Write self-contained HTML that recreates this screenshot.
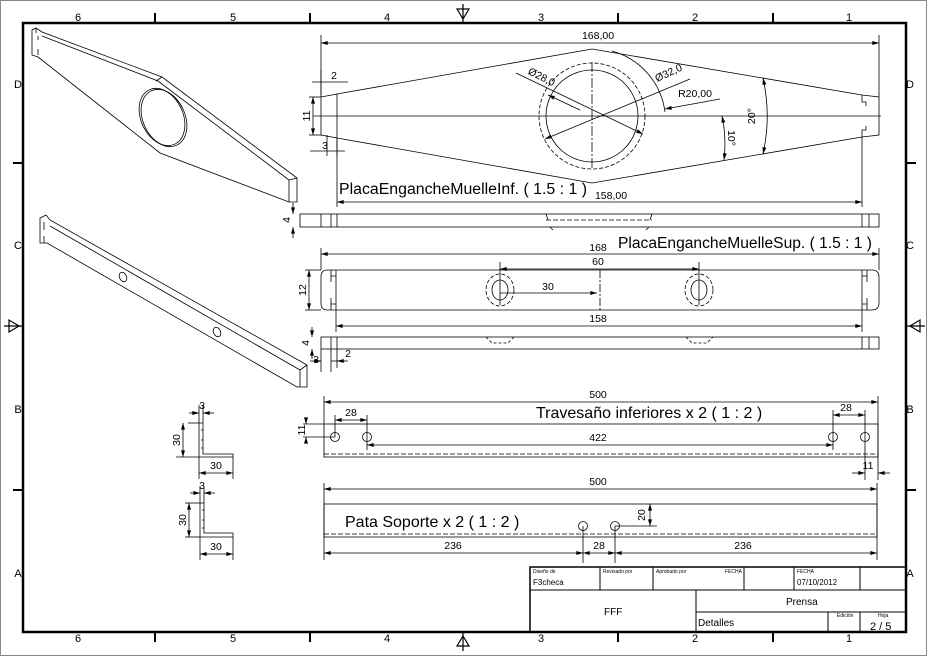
<!DOCTYPE html>
<html><head><meta charset="utf-8"><style>
html,body{margin:0;padding:0;background:#fff;}
svg{display:block;font-family:"Liberation Sans","DejaVu Sans",sans-serif;}
</style></head><body>
<svg width="927" height="656" viewBox="0 0 927 656" xmlns="http://www.w3.org/2000/svg">
<defs>
<marker id="a" viewBox="0 0 10 6" refX="10" refY="3" markerWidth="7" markerHeight="4" orient="auto-start-reverse" markerUnits="userSpaceOnUse"><path d="M0,0L10,3L0,6z" fill="#000"/></marker>
</defs>
<rect x="0.5" y="0.5" width="926" height="655" fill="#fff" stroke="#888"/>
<rect x="23" y="23" width="883" height="609" fill="none" stroke="#000" stroke-width="2.5"/>
<g stroke="#000" stroke-width="2">
<line x1="155" y1="13" x2="155" y2="23"/><line x1="310" y1="13" x2="310" y2="23"/><line x1="618" y1="13" x2="618" y2="23"/><line x1="773" y1="13" x2="773" y2="23"/>
<line x1="155" y1="632" x2="155" y2="642"/><line x1="310" y1="632" x2="310" y2="642"/><line x1="618" y1="632" x2="618" y2="642"/><line x1="773" y1="632" x2="773" y2="642"/>
<line x1="13" y1="163" x2="23" y2="163"/><line x1="13" y1="490" x2="23" y2="490"/>
<line x1="906" y1="163" x2="916" y2="163"/><line x1="906" y1="490" x2="916" y2="490"/>
</g>
<g stroke="#000" stroke-width="1.2" fill="none">
<line x1="463" y1="4" x2="463" y2="23"/><path d="M457,9L469,9L463,19z"/>
<line x1="463" y1="632" x2="463" y2="651"/><path d="M457,646L469,646L463,636z"/>
<line x1="4" y1="326" x2="23" y2="326"/><path d="M9,320L9,332L19,326z"/>
<line x1="906" y1="326" x2="925" y2="326"/><path d="M920,320L920,332L910,326z"/>
</g>
<g font-size="11" text-anchor="middle" fill="#000">
<text x="78" y="21">6</text><text x="233" y="21">5</text><text x="387" y="21">4</text><text x="541" y="21">3</text><text x="695" y="21">2</text><text x="849" y="21">1</text>
<text x="78" y="642">6</text><text x="233" y="642">5</text><text x="387" y="642">4</text><text x="541" y="642">3</text><text x="695" y="642">2</text><text x="849" y="642">1</text>
<text x="18" y="88">D</text><text x="18" y="249">C</text><text x="18" y="413">B</text><text x="18" y="577">A</text>
<text x="910" y="88">D</text><text x="910" y="249">C</text><text x="910" y="413">B</text><text x="910" y="577">A</text>
</g>

<g stroke="#000" stroke-width="1" fill="none">
<rect x="530" y="567" width="376" height="65" stroke-width="1.5"/>
<line x1="530" y1="590" x2="906" y2="590"/>
<line x1="600" y1="567" x2="600" y2="590"/><line x1="653" y1="567" x2="653" y2="590"/><line x1="744" y1="567" x2="744" y2="590"/><line x1="794" y1="567" x2="794" y2="590"/><line x1="860" y1="567" x2="860" y2="590"/>
<line x1="696" y1="590" x2="696" y2="632"/><line x1="696" y1="612" x2="906" y2="612"/>
<line x1="828" y1="612" x2="828" y2="632"/><line x1="860" y1="612" x2="860" y2="632"/>
</g>
<g font-size="5" fill="#000">
<text x="533" y="573">Diseño de</text><text x="603" y="573">Revisado por</text><text x="656" y="573">Aprobado por</text><text x="725" y="573">FECHA</text><text x="797" y="573">FECHA</text>
<text x="837" y="617">Edición</text><text x="878" y="617">Hoja</text>
</g>
<g font-size="8" fill="#000"><text x="533" y="585">F3checa</text><text x="797" y="585">07/10/2012</text></g>
<g font-size="10" fill="#000"><text x="604" y="615">FFF</text><text x="786" y="605">Prensa</text><text x="698" y="626">Detalles</text><text x="870" y="630" font-size="11">2 / 5</text></g>

<g stroke="#000" stroke-width="0.8" fill="none">
<path d="M32,30L36,28L42,32L162,77L297,178L297,202L289,202L160,153L38,57L32,55z"/>
<path d="M42,36L158,81L289,180"/><line x1="162" y1="77" x2="156" y2="81"/>
<path d="M289,180L297,178M289,180L289,202"/>
<path d="M36,28L36,33M38,36L38,40M38,49L38,55"/>
<ellipse cx="162" cy="117" rx="21" ry="30" transform="rotate(-25 162 117)"/>
<ellipse cx="164" cy="118" rx="21" ry="30" transform="rotate(-25 164 118)"/>
<path d="M40,218L46,215L50,220L307,365L307,387L297,387L47,243L40,243z"/>
<path d="M50,226L300,370L300,387M300,370L307,365"/>
<path d="M44,222L44,230M44,236L44,243"/>
<ellipse cx="123" cy="277" rx="3.5" ry="5" transform="rotate(-25 123 277)"/>
<ellipse cx="217" cy="332" rx="3.5" ry="5" transform="rotate(-25 217 332)"/>
</g>

<g stroke="#000" stroke-width="0.8" fill="none">
<path d="M321,97L337,94L592,49L862,95L879,97L879,135L862,137L592,183L337,138L321,135z"/>
<line x1="337" y1="94" x2="337" y2="138"/>
<path d="M862,95L862,102L866,102L866,106M866,126L866,130L862,130L862,137"/>
<line x1="313" y1="116" x2="881" y2="116"/>
<circle cx="592" cy="116" r="46"/>
<circle cx="592" cy="116" r="53" stroke-dasharray="4,2"/>
<line x1="592" y1="62" x2="592" y2="170" stroke-dasharray="10,2,2,2"/>
<path d="M612,51A73,73 0 0 1 665,112"/>
<line x1="321" y1="35" x2="321" y2="97"/><line x1="879" y1="35" x2="879" y2="97"/>
<line x1="321" y1="43" x2="879" y2="43" marker-start="url(#a)" marker-end="url(#a)"/>
<line x1="337" y1="138" x2="337" y2="207"/><line x1="862" y1="137" x2="862" y2="207"/>
<line x1="337" y1="202" x2="862" y2="202" marker-start="url(#a)" marker-end="url(#a)"/>
<line x1="516" y1="73" x2="643" y2="134" marker-end="url(#a)"/>
<line x1="580" y1="110" x2="548" y2="95" marker-end="url(#a)"/>
<line x1="690" y1="79" x2="545" y2="139" marker-end="url(#a)"/>
<line x1="720" y1="99" x2="665" y2="109" marker-end="url(#a)"/>
<path d="M763,78A175,175 0 0 1 763,154" marker-start="url(#a)" marker-end="url(#a)"/>
<path d="M722,116A135,135 0 0 1 724,160" marker-start="url(#a)" marker-end="url(#a)"/>
<line x1="312" y1="82" x2="348" y2="82"/><line x1="321" y1="70" x2="321" y2="95"/>
<line x1="313" y1="97" x2="313" y2="135" marker-start="url(#a)" marker-end="url(#a)"/>
<line x1="309" y1="97" x2="321" y2="97"/><line x1="309" y1="135" x2="321" y2="135"/>
<line x1="310" y1="151" x2="345" y2="151"/><line x1="327" y1="135" x2="327" y2="156"/><line x1="337" y1="140" x2="337" y2="156"/>
<rect x="300" y="214" width="579" height="13"/>
<line x1="321" y1="214" x2="321" y2="227"/><line x1="331" y1="214" x2="331" y2="227"/><line x1="337" y1="214" x2="337" y2="227"/>
<line x1="862" y1="214" x2="862" y2="227"/><line x1="869" y1="214" x2="869" y2="227"/>
<line x1="546" y1="220" x2="652" y2="220" stroke-dasharray="5,2"/>
<path d="M546,214L548,220M652,214L650,220M550,227L553,230M649,227L646,230"/>
<line x1="293" y1="203" x2="293" y2="214" marker-end="url(#a)"/><line x1="293" y1="238" x2="293" y2="227" marker-end="url(#a)"/>
</g>
<g fill="#000" font-size="10.5" text-anchor="middle">
<text x="598" y="39">168,00</text>
<text x="334" y="79">2</text>
<text x="325" y="149">3</text>
<text transform="translate(313,116) rotate(-90)" y="-3">11</text>
<text x="611" y="199">158,00</text>
<text transform="translate(540,80) rotate(27)">Ø28,0</text>
<text transform="translate(670,76) rotate(-25)">Ø32,0</text>
<text x="695" y="97">R20,00</text>
<text transform="translate(755,116) rotate(-90)">20°</text>
<text transform="translate(728,138) rotate(90)">10°</text>
<text transform="translate(290,220) rotate(-90)">4</text>
</g>
<text x="339" y="194" font-size="15.5" fill="#000" textLength="248" lengthAdjust="spacingAndGlyphs">PlacaEngancheMuelleInf. ( 1.5 : 1 )</text>

<g stroke="#000" stroke-width="0.8" fill="none">
<path d="M327,270L872,270Q879,270 879,277L879,303Q879,310 872,310L327,310Q321,310 321,303L321,277Q321,270 327,270z"/>
<line x1="336" y1="270" x2="336" y2="310"/><line x1="862" y1="270" x2="862" y2="310"/>
<path d="M331,270L331,282M331,276L336,276M331,298L331,310M331,304L336,304"/>
<path d="M867,270L867,282M862,276L867,276M867,298L867,310M862,304L867,304"/>
<ellipse cx="500" cy="290" rx="8" ry="10"/><ellipse cx="500" cy="290" rx="14" ry="16" stroke-dasharray="4,2"/>
<ellipse cx="699" cy="290" rx="8" ry="10"/><ellipse cx="699" cy="290" rx="14" ry="16" stroke-dasharray="4,2"/>
<line x1="500" y1="262" x2="500" y2="305"/><line x1="699" y1="262" x2="699" y2="305"/>
<line x1="600" y1="270" x2="600" y2="310" stroke-dasharray="8,2,2,2"/>
<line x1="321" y1="254" x2="879" y2="254" marker-start="url(#a)" marker-end="url(#a)"/>
<line x1="321" y1="248" x2="321" y2="270"/><line x1="879" y1="248" x2="879" y2="270"/>
<line x1="500" y1="269" x2="699" y2="269" marker-start="url(#a)" marker-end="url(#a)"/>
<line x1="500" y1="293" x2="597" y2="293" marker-end="url(#a)"/>
<line x1="336" y1="326" x2="862" y2="326" marker-start="url(#a)" marker-end="url(#a)"/>
<line x1="336" y1="310" x2="336" y2="332"/><line x1="862" y1="310" x2="862" y2="332"/>
<line x1="309" y1="270" x2="309" y2="310" marker-start="url(#a)" marker-end="url(#a)"/>
<line x1="305" y1="270" x2="321" y2="270"/><line x1="305" y1="310" x2="321" y2="310"/>
<rect x="321" y="337" width="558" height="12"/>
<line x1="331" y1="337" x2="331" y2="349"/><line x1="337" y1="337" x2="337" y2="349"/><line x1="862" y1="337" x2="862" y2="349"/><line x1="869" y1="337" x2="869" y2="349"/>
<path d="M486,337L492,343L508,343L514,337M686,337L692,343L707,343L713,337" stroke-dasharray="3,2"/>
<line x1="312" y1="327" x2="312" y2="337" marker-end="url(#a)"/><line x1="312" y1="359" x2="312" y2="349" marker-end="url(#a)"/>
<line x1="321" y1="349" x2="321" y2="372"/><line x1="331" y1="349" x2="331" y2="372"/><line x1="337" y1="349" x2="337" y2="368"/>
<line x1="310" y1="361" x2="321" y2="361" marker-end="url(#a)"/><line x1="345" y1="361" x2="331" y2="361"/>
<line x1="348" y1="361" x2="337" y2="361" marker-end="url(#a)"/>
</g>
<g fill="#000" font-size="10.5" text-anchor="middle">
<text x="598" y="251">168</text><text x="598" y="265">60</text><text x="548" y="290">30</text><text x="598" y="322">158</text>
<text transform="translate(306,290) rotate(-90)">12</text>
<text transform="translate(309,343) rotate(-90)">4</text>
<text x="316" y="363">3</text><text x="348" y="357">2</text>
</g>
<text x="618" y="248" font-size="15.5" fill="#000" textLength="254" lengthAdjust="spacingAndGlyphs">PlacaEngancheMuelleSup. ( 1.5 : 1 )</text>

<g stroke="#000" stroke-width="0.8" fill="none">
<rect x="324" y="424" width="554" height="33"/>
<line x1="324" y1="454" x2="878" y2="454" stroke-dasharray="5,2"/>
<circle cx="335" cy="437" r="4.5"/><circle cx="367" cy="437" r="4.5"/><circle cx="833" cy="437" r="4.5"/><circle cx="865" cy="437" r="4.5"/>
<line x1="324" y1="396" x2="324" y2="424"/><line x1="878" y1="396" x2="878" y2="480"/>
<line x1="324" y1="402" x2="878" y2="402" marker-start="url(#a)" marker-end="url(#a)"/>
<line x1="335" y1="415" x2="335" y2="437"/><line x1="367" y1="415" x2="367" y2="450"/>
<line x1="335" y1="420" x2="367" y2="420" marker-start="url(#a)" marker-end="url(#a)"/>
<line x1="833" y1="410" x2="833" y2="450"/><line x1="865" y1="410" x2="865" y2="480"/>
<line x1="833" y1="415" x2="865" y2="415" marker-start="url(#a)" marker-end="url(#a)"/>
<line x1="367" y1="445" x2="833" y2="445" marker-start="url(#a)" marker-end="url(#a)"/>
<line x1="303" y1="424" x2="324" y2="424"/><line x1="303" y1="437" x2="335" y2="437"/>
<line x1="306" y1="418" x2="306" y2="424" marker-end="url(#a)"/><line x1="306" y1="443" x2="306" y2="437" marker-end="url(#a)"/>
<line x1="852" y1="473" x2="865" y2="473" marker-end="url(#a)"/><line x1="890" y1="473" x2="878" y2="473" marker-end="url(#a)"/>
</g>
<g fill="#000" font-size="10.5" text-anchor="middle">
<text x="598" y="398">500</text><text x="351" y="416">28</text><text x="846" y="411">28</text><text x="598" y="441">422</text>
<text transform="translate(305,430) rotate(-90)">11</text><text x="868" y="469">11</text>
</g>
<text x="536" y="418" font-size="16" fill="#000">Travesaño inferiores x 2 ( 1 : 2 )</text>

<g stroke="#000" stroke-width="0.8" fill="none">
<rect x="324" y="504" width="553" height="33"/>
<line x1="324" y1="534" x2="877" y2="534" stroke-dasharray="5,2"/>
<circle cx="583" cy="526" r="4.5"/><circle cx="615" cy="526" r="4.5"/>
<line x1="324" y1="483" x2="324" y2="560"/><line x1="877" y1="483" x2="877" y2="560"/>
<line x1="324" y1="489" x2="877" y2="489" marker-start="url(#a)" marker-end="url(#a)"/>
<line x1="615" y1="526" x2="657" y2="526"/>
<line x1="650" y1="504" x2="650" y2="526" marker-start="url(#a)" marker-end="url(#a)"/>
<line x1="583" y1="526" x2="583" y2="563"/><line x1="615" y1="526" x2="615" y2="563"/>
<line x1="324" y1="553" x2="583" y2="553" marker-start="url(#a)" marker-end="url(#a)"/>
<line x1="583" y1="553" x2="615" y2="553" marker-start="url(#a)" marker-end="url(#a)"/>
<line x1="615" y1="553" x2="877" y2="553" marker-start="url(#a)" marker-end="url(#a)"/>
</g>
<g fill="#000" font-size="10.5" text-anchor="middle">
<text x="598" y="485">500</text><text x="453" y="549">236</text><text x="599" y="549">28</text><text x="743" y="549">236</text>
<text transform="translate(645,515) rotate(-90)">20</text>
</g>
<text x="345" y="527" font-size="16" fill="#000">Pata Soporte x 2 ( 1 : 2 )</text>

<g stroke="#000" stroke-width="0.8" fill="none">
<path d="M199,423L203,423L203,454L233,454L233,457L199,457z"/>
<path d="M201,430L203,430M201,440L203,440M201,448L203,448"/>
<line x1="188" y1="423" x2="199" y2="423"/><line x1="176" y1="457" x2="199" y2="457"/>
<line x1="183" y1="423" x2="183" y2="457" marker-start="url(#a)" marker-end="url(#a)"/>
<line x1="199" y1="405" x2="199" y2="423"/><line x1="203" y1="405" x2="203" y2="423"/>
<line x1="189" y1="413" x2="199" y2="413" marker-end="url(#a)"/><line x1="214" y1="413" x2="203" y2="413" marker-end="url(#a)"/>
<line x1="199" y1="457" x2="199" y2="479"/><line x1="233" y1="457" x2="233" y2="479"/>
<line x1="199" y1="473" x2="233" y2="473" marker-start="url(#a)" marker-end="url(#a)"/>
<path d="M200,503L204,503L204,533L233,533L233,537L200,537z"/>
<path d="M202,510L204,510M202,520L204,520M202,528L204,528"/>
<line x1="185" y1="503" x2="200" y2="503"/><line x1="185" y1="537" x2="200" y2="537"/>
<line x1="189" y1="503" x2="189" y2="537" marker-start="url(#a)" marker-end="url(#a)"/>
<line x1="200" y1="486" x2="200" y2="503"/><line x1="204" y1="486" x2="204" y2="503"/>
<line x1="190" y1="493" x2="200" y2="493" marker-end="url(#a)"/><line x1="215" y1="493" x2="204" y2="493" marker-end="url(#a)"/>
<line x1="200" y1="537" x2="200" y2="560"/><line x1="233" y1="537" x2="233" y2="560"/>
<line x1="200" y1="554" x2="233" y2="554" marker-start="url(#a)" marker-end="url(#a)"/>
</g>
<g fill="#000" font-size="10.5" text-anchor="middle">
<text x="202" y="409">3</text><text x="216" y="469">30</text><text transform="translate(180,440) rotate(-90)">30</text>
<text x="202" y="489">3</text><text x="216" y="550">30</text><text transform="translate(186,520) rotate(-90)">30</text>
</g>
</svg>
</body></html>
